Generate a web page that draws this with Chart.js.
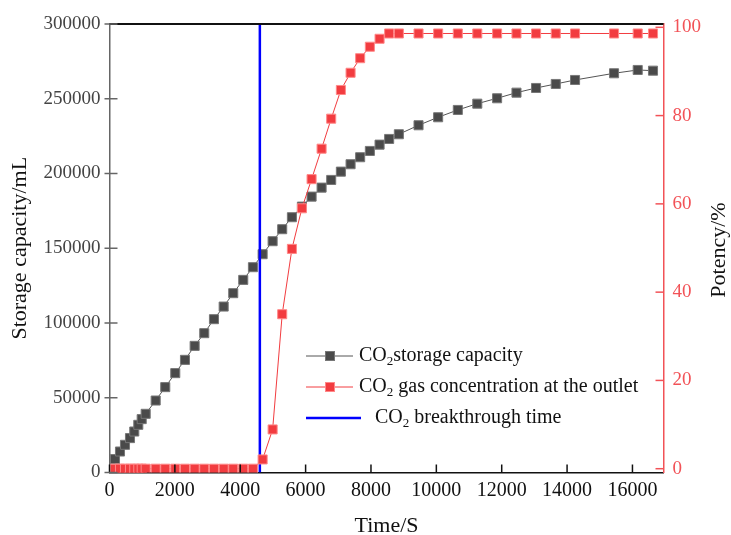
<!DOCTYPE html>
<html>
<head>
<title>CO2 storage capacity and outlet concentration</title>
<script src="https://cdn.jsdelivr.net/npm/chart.js@4.4.0/dist/chart.umd.min.js"></script>
<style>
    body { margin: 0; background: #fff; }
    #wrap { width: 731px; height: 535px; }
</style>
</head>
<body>
<div id="wrap"><canvas id="chart" width="731" height="535"></canvas></div>
<script>
// data
const timeS = [168, 321, 474, 627, 758, 881, 985, 1107, 1413, 1706, 2012, 2309, 2605, 2899, 3196, 3493, 3786, 4092, 4388,
    4685, 4991, 5284, 5581, 5887, 6183, 6489, 6783, 7079, 7376, 7669, 7966, 8263, 8556, 8853, 9455, 10055, 10657,
    11253, 11859, 12452, 13051, 13654, 14244, 15437, 16161, 16629];
const storageML = [8960, 14040, 18520, 23000, 27410, 31890, 35700, 39250, 48140, 57100, 66460, 75350, 84710, 93200, 102560,
    110990, 119950, 128840, 137330, 146020, 154710, 162740, 170760, 177850, 184540, 190550, 195700, 201250, 206200,
    210880, 215090, 219300, 223110, 226260, 232270, 237620, 242500, 246710, 250320, 254070, 257210, 259890, 262560,
    267040, 269250, 268780];
const potencyPct = [0, 0, 0, 0, 0, 0, 0, 0, 0, 0, 0, 0, 0, 0, 0, 0, 0, 0, 0,
    2.1, 8.9, 35.0, 49.8, 59.0, 65.6, 72.5, 79.3, 85.8, 89.7, 93.0, 95.6, 97.4, 98.6, 98.6, 98.6, 98.6, 98.6,
    98.6, 98.6, 98.6, 98.6, 98.6, 98.6, 98.6, 98.6, 98.6];
const breakthroughTime = 4600;

const xTickVals = [0, 2000, 4000, 6000, 8000, 10000, 12000, 14000, 16000];
const leftTickVals = [0, 50000, 100000, 150000, 200000, 250000, 300000];
const rightTickVals = [0, 20, 40, 60, 80, 100];

const SERIF = '"Liberation Serif", "Times New Roman", serif';
const RED = '#f23c40';
const AXIS_RED = '#f25257';
const DARK = '#4a4a4a';

function toPoints(xs, ys) {
    return xs.map((x, i) => ({ x: x, y: ys[i] }));
}

function drawCO2(ctx, x, y, rest) {
    ctx.font = '20px ' + SERIF;
    ctx.fillText('CO', x, y);
    let w = ctx.measureText('CO').width;
    ctx.font = '13px ' + SERIF;
    ctx.fillText('2', x + w, y + 6);
    w += ctx.measureText('2').width;
    ctx.font = '20px ' + SERIF;
    ctx.fillText(rest, x + w, y);
}

function square(ctx, x, y, fill, edge) {
    ctx.fillStyle = fill;
    ctx.fillRect(x - 4.5, y - 4.5, 9, 9);
    ctx.strokeStyle = edge;
    ctx.lineWidth = 1;
    ctx.strokeRect(x - 4.5, y - 4.5, 9, 9);
}

const extras = {
    id: 'extras',
    beforeDraw(chart) {
        const ctx = chart.ctx;
        ctx.save();
        ctx.fillStyle = '#fff';
        ctx.fillRect(0, 0, chart.width, chart.height);
        ctx.restore();
    },
    afterDraw(chart) {
        const ctx = chart.ctx;
        const a = chart.chartArea;
        const sx = chart.scales.x, sy = chart.scales.y, sy1 = chart.scales.y1;
        ctx.save();

        // top frame line
        ctx.strokeStyle = '#111';
        ctx.lineWidth = 2;
        ctx.beginPath();
        ctx.moveTo(a.left, a.top);
        ctx.lineTo(a.right, a.top);
        ctx.stroke();

        // tick marks
        ctx.lineWidth = 1.5;
        ctx.strokeStyle = '#111';
        xTickVals.forEach(v => {
            const px = sx.getPixelForValue(v);
            ctx.beginPath(); ctx.moveTo(px, a.bottom); ctx.lineTo(px, a.bottom - 8); ctx.stroke();
        });
        ctx.strokeStyle = '#666';
        leftTickVals.forEach(v => {
            const py = sy.getPixelForValue(v);
            ctx.beginPath(); ctx.moveTo(a.left - 5, py); ctx.lineTo(a.left + 8, py); ctx.stroke();
        });
        ctx.strokeStyle = AXIS_RED;
        rightTickVals.forEach(v => {
            const py = sy1.getPixelForValue(v);
            ctx.beginPath(); ctx.moveTo(a.right - 8, py); ctx.lineTo(a.right, py); ctx.stroke();
        });

        // axis titles
        ctx.fillStyle = '#111';
        ctx.font = '22px ' + SERIF;
        ctx.textAlign = 'center';
        ctx.textBaseline = 'middle';
        ctx.fillText('Time/S', (a.left + a.right) / 2, 526);
        ctx.save();
        ctx.translate(20, (a.top + a.bottom) / 2);
        ctx.rotate(-Math.PI / 2);
        ctx.fillText('Storage capacity/mL', 0, 0);
        ctx.restore();
        ctx.save();
        ctx.translate(719, 250);
        ctx.rotate(-Math.PI / 2);
        ctx.fillText('Potency/%', 0, 0);
        ctx.restore();

        // legend
        ctx.textAlign = 'left';
        ctx.lineWidth = 1;
        ctx.strokeStyle = '#555';
        ctx.beginPath(); ctx.moveTo(306, 356); ctx.lineTo(353, 356); ctx.stroke();
        square(ctx, 330, 356, DARK, '#777');
        ctx.strokeStyle = RED;
        ctx.beginPath(); ctx.moveTo(306, 387); ctx.lineTo(353, 387); ctx.stroke();
        square(ctx, 330, 387, RED, '#f88');
        ctx.strokeStyle = '#0000ff';
        ctx.lineWidth = 2.5;
        ctx.beginPath(); ctx.moveTo(306, 418); ctx.lineTo(361, 418); ctx.stroke();
        ctx.fillStyle = '#111';
        drawCO2(ctx, 359, 356, 'storage capacity');
        drawCO2(ctx, 359, 387, ' gas concentration at the outlet');
        drawCO2(ctx, 375, 418, ' breakthrough time');

        ctx.restore();
    }
};

new Chart(document.getElementById('chart'), {
    type: 'line',
    data: {
        datasets: [
            {
                label: 'CO2 gas concentration at the outlet',
                data: toPoints(timeS, potencyPct),
                yAxisID: 'y1',
                order: 0,
                borderColor: RED,
                borderWidth: 1,
                pointStyle: 'rect',
                pointRadius: 6.4,
                pointBackgroundColor: RED,
                pointBorderColor: '#f88',
                pointBorderWidth: 1,
                tension: 0
            },
            {
                label: 'CO2 breakthrough time',
                data: [{ x: breakthroughTime, y: 0 }, { x: breakthroughTime, y: 300000 }],
                yAxisID: 'y',
                order: 1,
                borderColor: '#0000ff',
                borderWidth: 2.5,
                pointRadius: 0
            },
            {
                label: 'CO2storage capacity',
                data: toPoints(timeS, storageML),
                yAxisID: 'y',
                order: 2,
                borderColor: '#555',
                borderWidth: 1,
                pointStyle: 'rect',
                pointRadius: 6.4,
                pointBackgroundColor: DARK,
                pointBorderColor: '#777',
                pointBorderWidth: 1,
                tension: 0
            }
        ]
    },
    options: {
        responsive: false,
        animation: false,
        devicePixelRatio: 1,
        layout: { padding: { top: 24, left: 0, right: 0, bottom: 0 } },
        plugins: {
            legend: { display: false },
            tooltip: { enabled: false }
        },
        scales: {
            x: {
                type: 'linear',
                min: 0,
                max: 16950,
                afterFit: s => { s.height = 62.5; },
                afterBuildTicks: s => { s.ticks = xTickVals.map(v => ({ value: v })); },
                grid: { drawOnChartArea: false, drawTicks: false },
                border: { display: true, color: '#111', width: 1.5 },
                ticks: {
                    color: '#111',
                    padding: 6,
                    maxRotation: 0,
                    autoSkip: false,
                    font: { family: SERIF, size: 20 },
                    callback: v => String(v)
                }
            },
            y: {
                position: 'left',
                min: 0,
                max: 300000,
                afterFit: s => { s.width = 109.5; },
                afterBuildTicks: s => { s.ticks = leftTickVals.map(v => ({ value: v })); },
                grid: { drawOnChartArea: false, drawTicks: false },
                border: { display: true, color: '#666', width: 1.5 },
                ticks: {
                    color: '#444',
                    padding: 9,
                    font: { family: SERIF, size: 19 },
                    callback: v => String(v)
                }
            },
            y1: {
                position: 'right',
                min: -0.86,
                max: 100.75,
                afterFit: s => { s.width = 67.5; },
                afterBuildTicks: s => { s.ticks = rightTickVals.map(v => ({ value: v })); },
                grid: { drawOnChartArea: false, drawTicks: false },
                border: { display: true, color: AXIS_RED, width: 1.5 },
                ticks: {
                    color: AXIS_RED,
                    padding: 9,
                    font: { family: SERIF, size: 19 },
                    callback: v => String(v)
                }
            }
        }
    },
    plugins: [extras]
});
</script>
</body>
</html>
